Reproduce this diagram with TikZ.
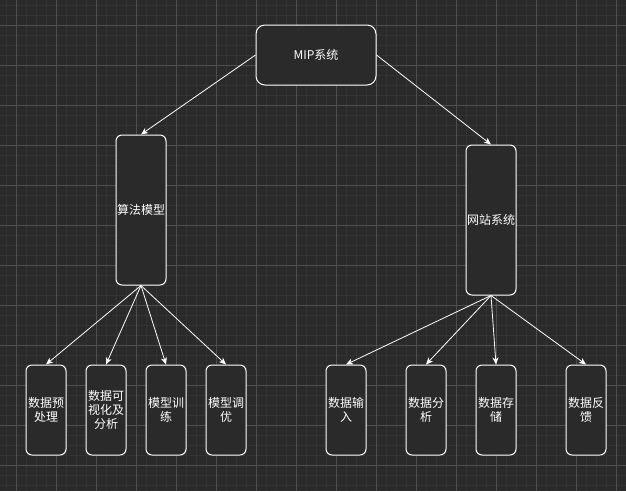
\documentclass[tikz,border=0pt]{standalone}
\usepackage{fontspec}
\setmainfont{Noto Sans CJK SC}
\usetikzlibrary{arrows.meta}
\definecolor{bg}{HTML}{2A2A2A}
\definecolor{gridminor}{HTML}{333333}
\definecolor{gridmajor}{HTML}{4E4E4E}
\begin{document}
\begin{tikzpicture}[x=1pt,y=-1pt,
  box/.style={draw=white, fill=bg, rounded corners=6pt, line width=1pt, text=white,
    align=center, font=\fontsize{12}{14}\selectfont, inner sep=0pt},
  leaf/.style={box, minimum width=40pt, minimum height=90pt},
  mid/.style={box, minimum width=50pt, minimum height=150pt},
  top/.style={box, minimum width=120pt, minimum height=60pt, rounded corners=9pt},
  link/.style={draw=white, line width=0.8pt, -{Stealth[length=7pt,width=6pt,inset=2pt]}}]
\useasboundingbox (0,0) rectangle (626,491);
\fill[bg] (0,0) rectangle (626,491);
\foreach \x in {6,16,...,626} \draw[gridminor, line width=0.8pt] (\x,0) -- (\x,491);
\foreach \y in {5,15,...,491} \draw[gridminor, line width=0.8pt] (0,\y) -- (626,\y);
\foreach \x in {16,56,...,626} \draw[gridmajor, line width=0.8pt] (\x,0) -- (\x,491);
\foreach \y in {25,65,...,491} \draw[gridmajor, line width=0.8pt] (0,\y) -- (626,\y);

\node[top] (mip) at (316,55) {MIP系统};
\node[mid] (alg) at (141,210) {算法模型};
\node[mid] (web) at (491,220) {网站系统};

\node[leaf] (a1) at (46,410) {数据预\\处理};
\node[leaf] (a2) at (106,410) {数据可\\视化及\\分析};
\node[leaf] (a3) at (166,410) {模型训\\练};
\node[leaf] (a4) at (226,410) {模型调\\优};

\node[leaf] (w1) at (346,410) {数据输\\入};
\node[leaf] (w2) at (426,410) {数据分\\析};
\node[leaf] (w3) at (496,410) {数据存\\储};
\node[leaf] (w4) at (586,410) {数据反\\馈};

\draw[link] (mip.west) -- (alg.north);
\draw[link] (mip.east) -- (web.north);
\foreach \n in {a1,a2,a3,a4} \draw[link] (alg.south) -- (\n.north);
\foreach \n in {w1,w2,w3,w4} \draw[link] (web.south) -- (\n.north);
\end{tikzpicture}
\end{document}
